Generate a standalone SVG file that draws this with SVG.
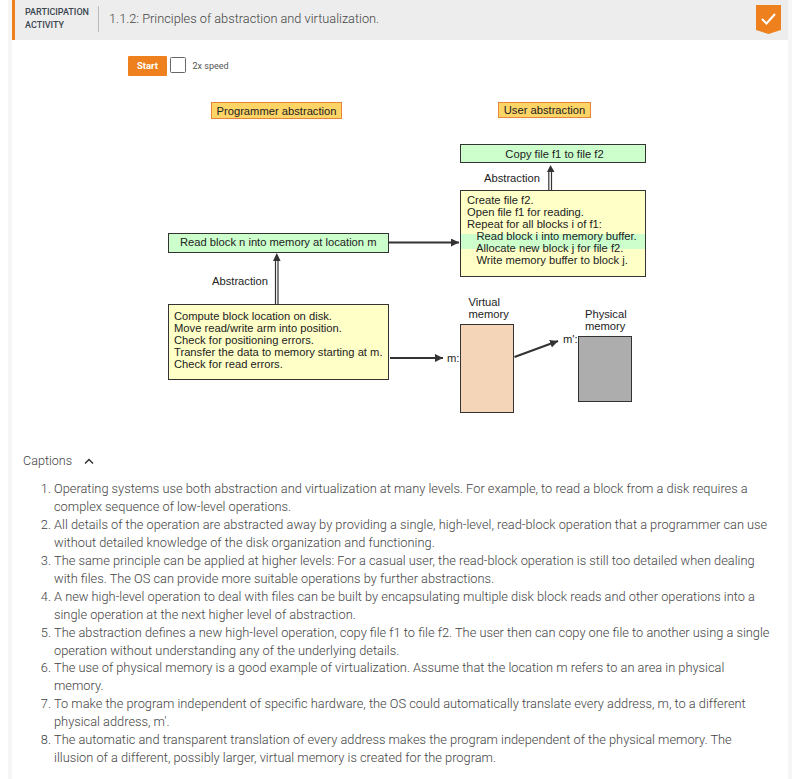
<svg xmlns="http://www.w3.org/2000/svg" width="792" height="779" viewBox="0 0 792 779">
<style>
.d{font-family:"Liberation Sans",Arial,sans-serif;font-size:11.2px;fill:#222}
.t{stroke:#333;stroke-width:1}
.y{fill:#ffffc8}
.g{fill:#ccffcc}
.o{fill:#fdd466;stroke:#e8843a;stroke-width:1}
.c{font-family:Roboto,sans-serif;font-size:12.82px;font-weight:300;fill:#444}
.n{text-anchor:end}
</style>
<defs>
<marker id="a" markerUnits="userSpaceOnUse" markerWidth="10" markerHeight="10" refX="8" refY="4" orient="auto"><path d="M0,0L8,4L0,8Z" fill="#333"/></marker>
</defs>
<rect width="792" height="779" fill="#fff"/>
<rect x="788" width="4" height="779" fill="#f6f6f6"/>
<rect x="8" width="4" height="779" fill="#f6f6f6"/>
<g id="header">
<rect x="12" width="776" height="40" fill="#ededed"/>
<rect x="12" width="3" height="40" fill="#ee811d"/>
<text x="25" y="15" font-family="Roboto,sans-serif" font-size="9" font-weight="500" fill="#3c4650">PARTICIPATION</text>
<text x="25" y="28" font-family="Roboto,sans-serif" font-size="9" font-weight="500" fill="#3c4650">ACTIVITY</text>
<rect x="98" y="6" width="1" height="26" fill="#bbb"/>
<text x="109" y="23" font-family="Roboto,sans-serif" font-size="12.780" font-weight="300" fill="#444">1.1.2: Principles of abstraction and virtualization.</text>
<path d="M756,5H781V30L768.500,34L756,30Z" fill="#ee811d"/>
<path d="M762,19L766.500,23.500L775,14" fill="none" stroke="#fff" stroke-width="2"/>
</g>
<g id="controls">
<rect x="128" y="56" width="39" height="20" rx="1" fill="#ee811d"/>
<text x="147.500" y="69" text-anchor="middle" font-family="Roboto,sans-serif" font-size="9.500" font-weight="700" fill="#fff">Start</text>
<rect x="170.500" y="57.500" width="15" height="15" rx="1" fill="#fff" stroke="#666"/>
<text x="192.500" y="69" font-family="Roboto,sans-serif" font-size="9" fill="#555">2x speed</text>
</g>
<g id="programmer-abstraction">
<rect class="o" x="211.500" y="102.500" width="130" height="16"/>
<text class="d" x="276.500" y="115" text-anchor="middle">Programmer abstraction</text>
</g>
<g id="user-abstraction">
<rect class="o" x="498.500" y="102.500" width="92" height="15"/>
<text class="d" x="544.500" y="114" text-anchor="middle">User abstraction</text>
</g>
<g id="connectors">
<path d="M389,242.500H459" fill="none" stroke="#333" stroke-width="2" marker-end="url(#a)"/>
<path d="M390,358H443" fill="none" stroke="#333" stroke-width="2" marker-end="url(#a)"/>
<path d="M514.500,357L558,341" fill="none" stroke="#333" stroke-width="2" marker-end="url(#a)"/>
<path d="M275.500,304V260M278,304V260" fill="none" stroke="#333" stroke-width="1.200"/>
<path d="M273,261L276.800,253L280.600,261Z" fill="#333"/>
<path d="M548.800,190V172M551.500,190V172" fill="none" stroke="#333" stroke-width="1.200"/>
<path d="M547,172L550.500,165L554.500,172Z" fill="#333"/>
</g>
<g id="copy-file">
<rect class="t g" x="460.500" y="144.500" width="185" height="18"/>
<text class="d" x="554.500" y="158" text-anchor="middle">Copy file f1 to file f2</text>
</g>
<text class="d" x="484" y="182">Abstraction</text>
<g id="create-file">
<rect class="t y" x="460.500" y="190.500" width="185" height="86"/>
<rect class="g" x="461" y="234" width="184" height="15"/>
<text class="d" x="467" y="204">Create file f2.</text>
<text class="d" x="467" y="216">Open file f1 for reading.</text>
<text class="d" x="467" y="228">Repeat for all blocks i of f1:</text>
<text class="d" x="476.500" y="240">Read block i into memory buffer.</text>
<text class="d" x="476" y="252">Allocate new block j for file f2.</text>
<text class="d" x="476.500" y="264">Write memory buffer to block j.</text>
</g>
<g id="read-block">
<rect class="t g" x="168.500" y="233.500" width="220" height="19"/>
<text class="d" x="180" y="246">Read block n into memory at location m</text>
</g>
<text class="d" x="212" y="285">Abstraction</text>
<g id="compute-block">
<rect class="t y" x="168.500" y="304.500" width="220" height="75"/>
<text class="d" x="174" y="320">Compute block location on disk.</text>
<text class="d" x="174" y="332">Move read/write arm into position.</text>
<text class="d" x="174" y="344">Check for positioning errors.</text>
<text class="d" x="174" y="356">Transfer the data to memory starting at m.</text>
<text class="d" x="174" y="368">Check for read errors.</text>
</g>
<g id="virtual-memory">
<text class="d" x="468.500" y="306">Virtual</text>
<text class="d" x="468.500" y="318">memory</text>
<rect class="t" x="460.500" y="324.500" width="53" height="88" fill="#f5d5b8"/>
<text class="d" x="447" y="362">m:</text>
</g>
<g id="physical-memory">
<text class="d" x="585" y="318">Physical</text>
<text class="d" x="585" y="330">memory</text>
<rect class="t" x="578.500" y="336.500" width="53" height="65" fill="#adadad"/>
<text class="d" x="563" y="343">m':</text>
</g>
<g id="captions">
<text x="23" y="465" font-family="Roboto,sans-serif" font-size="12.600" font-weight="300" fill="#444">Captions</text>
<path d="M85,463.500L89,459.500L93,463.500" fill="none" stroke="#333" stroke-width="1.500"/>
<text class="c n" x="51" y="493">1.</text><text class="c" x="54" y="493">Operating systems use both abstraction and virtualization at many levels. For example, to read a block from a disk requires a</text>
<text class="c" x="54" y="511">complex sequence of low-level operations.</text>
<text class="c n" x="51" y="529">2.</text><text class="c" x="54" y="529">All details of the operation are abstracted away by providing a single, high-level, read-block operation that a programmer can use</text>
<text class="c" x="54" y="547">without detailed knowledge of the disk organization and functioning.</text>
<text class="c n" x="51" y="565">3.</text><text class="c" x="54" y="565">The same principle can be applied at higher levels: For a casual user, the read-block operation is still too detailed when dealing</text>
<text class="c" x="54" y="583">with files. The OS can provide more suitable operations by further abstractions.</text>
<text class="c n" x="51" y="601">4.</text><text class="c" x="54" y="601">A new high-level operation to deal with files can be built by encapsulating multiple disk block reads and other operations into a</text>
<text class="c" x="54" y="619">single operation at the next higher level of abstraction.</text>
<text class="c n" x="51" y="637">5.</text><text class="c" x="54" y="637">The abstraction defines a new high-level operation, copy file f1 to file f2. The user then can copy one file to another using a single</text>
<text class="c" x="54" y="655">operation without understanding any of the underlying details.</text>
<text class="c n" x="51" y="672">6.</text><text class="c" x="54" y="672">The use of physical memory is a good example of virtualization. Assume that the location m refers to an area in physical</text>
<text class="c" x="54" y="690">memory.</text>
<text class="c n" x="51" y="708">7.</text><text class="c" x="54" y="708">To make the program independent of specific hardware, the OS could automatically translate every address, m, to a different</text>
<text class="c" x="54" y="726">physical address, m'.</text>
<text class="c n" x="51" y="744">8.</text><text class="c" x="54" y="744">The automatic and transparent translation of every address makes the program independent of the physical memory. The</text>
<text class="c" x="54" y="762">illusion of a different, possibly larger, virtual memory is created for the program.</text>
</g>
</svg>
